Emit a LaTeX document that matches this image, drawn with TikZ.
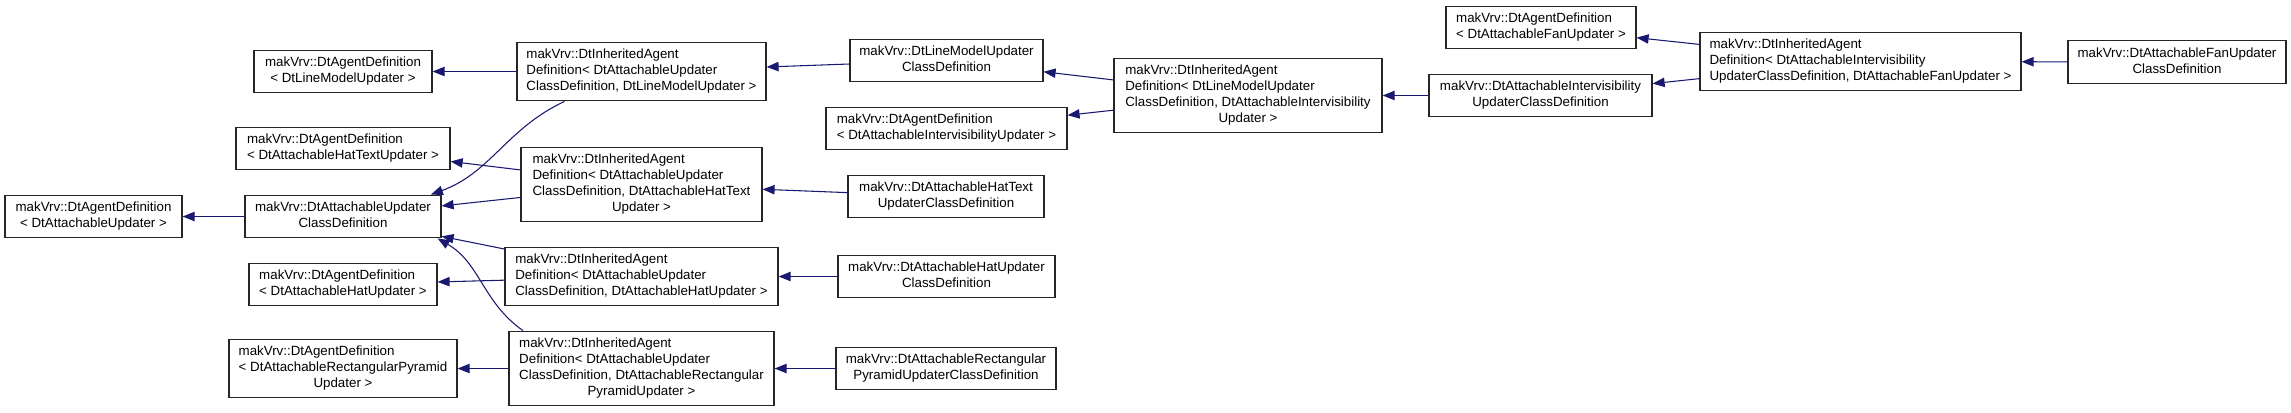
\documentclass[tikz,border=0pt]{standalone}
\usepackage{fontspec}
\setmainfont{Liberation Sans}
\usepackage{xcolor}
\usetikzlibrary{arrows.meta}

\definecolor{edgeblue}{RGB}{25,25,112}
\newcommand{\clsbox}[1]{\begin{tabular}{@{}l@{}}#1\end{tabular}}
\newcommand{\lastrow}[1]{\multicolumn{1}{@{}c@{}}{#1}}

\begin{document}
\begin{tikzpicture}[
  x=0.75pt, y=-0.75pt,
  cls/.style={draw=black!85, line width=0.9pt, fill=white, inner xsep=2pt,
              inner ysep=4pt, font=\fontsize{10}{12}\selectfont},
  inh/.style={{Triangle[length=9pt, width=7pt]}-, line width=0.8pt, edgeblue}
]
  \useasboundingbox (0,0) rectangle (2291,412);
  % Column 1
  \node[cls, minimum width=132.75pt] (a0) at (93.5,216.5)
    {\clsbox{makVrv::DtAgentDefinition\\\lastrow{< DtAttachableUpdater >}}};
  % Column 2
  \node[cls, minimum width=133.5pt] (c1) at (343,71.5)
    {\clsbox{makVrv::DtAgentDefinition\\\lastrow{< DtLineModelUpdater >}}};
  \node[cls, minimum width=160.5pt] (c2) at (343,148.5)
    {\clsbox{makVrv::DtAgentDefinition\\\lastrow{< DtAttachableHatTextUpdater >}}};
  \node[cls, minimum width=147pt] (b) at (343,216.5)
    {\clsbox{makVrv::DtAttachableUpdater\\\lastrow{ClassDefinition}}};
  \node[cls, minimum width=141pt] (c3) at (343,284.5)
    {\clsbox{makVrv::DtAgentDefinition\\\lastrow{< DtAttachableHatUpdater >}}};
  \node[cls, minimum width=171pt] (c4) at (343,368.5)
    {\clsbox{makVrv::DtAgentDefinition\\< DtAttachableRectangularPyramid\\\lastrow{Updater >}}};
  % Column 3
  \node[cls, minimum width=186.75pt] (d1) at (641.5,71.5)
    {\clsbox{makVrv::DtInheritedAgent\\Definition< DtAttachableUpdater\\\lastrow{ClassDefinition, DtLineModelUpdater >}}};
  \node[cls, minimum width=180.75pt] (d2) at (641.5,184.5)
    {\clsbox{makVrv::DtInheritedAgent\\Definition< DtAttachableUpdater\\ClassDefinition, DtAttachableHatText\\\lastrow{Updater >}}};
  \node[cls, minimum width=204.75pt] (d3) at (641.5,276.5)
    {\clsbox{makVrv::DtInheritedAgent\\Definition< DtAttachableUpdater\\\lastrow{ClassDefinition, DtAttachableHatUpdater >}}};
  \node[cls, minimum width=198.75pt] (d4) at (641.5,368.5)
    {\clsbox{makVrv::DtInheritedAgent\\Definition< DtAttachableUpdater\\ClassDefinition, DtAttachableRectangular\\\lastrow{PyramidUpdater >}}};
  % Column 4
  \node[cls, minimum width=144.75pt] (e1) at (946.5,60.5)
    {\clsbox{makVrv::DtLineModelUpdater\\\lastrow{ClassDefinition}}};
  \node[cls, minimum width=180.75pt] (e2) at (946.5,128.5)
    {\clsbox{makVrv::DtAgentDefinition\\\lastrow{< DtAttachableIntervisibilityUpdater >}}};
  \node[cls, minimum width=147pt] (e3) at (946,196.5)
    {\clsbox{makVrv::DtAttachableHatText\\\lastrow{UpdaterClassDefinition}}};
  \node[cls, minimum width=162.75pt] (e4) at (946.5,276.5)
    {\clsbox{makVrv::DtAttachableHatUpdater\\\lastrow{ClassDefinition}}};
  \node[cls, minimum width=165pt] (e5) at (946,368.5)
    {\clsbox{makVrv::DtAttachableRectangular\\\lastrow{PyramidUpdaterClassDefinition}}};
  % Column 5 to 8
  \node[cls, minimum width=201pt] (f) at (1248,95.5)
    {\clsbox{makVrv::DtInheritedAgent\\Definition< DtLineModelUpdater\\ClassDefinition, DtAttachableIntervisibility\\\lastrow{Updater >}}};
  \node[cls, minimum width=142.5pt] (g2) at (1541,27.5)
    {\clsbox{makVrv::DtAgentDefinition\\\lastrow{< DtAttachableFanUpdater >}}};
  \node[cls, minimum width=167.25pt] (g1) at (1540.5,95.5)
    {\clsbox{makVrv::DtAttachableIntervisibility\\\lastrow{UpdaterClassDefinition}}};
  \node[cls, minimum width=240.75pt] (h) at (1860.5,61.5)
    {\clsbox{makVrv::DtInheritedAgent\\Definition< DtAttachableIntervisibility\\\lastrow{UpdaterClassDefinition, DtAttachableFanUpdater >}}};
  \node[cls, minimum width=163.5pt] (i) at (2177,62)
    {\clsbox{makVrv::DtAttachableFanUpdater\\\lastrow{ClassDefinition}}};
  % Inheritance
  \draw[inh] (a0) -- (b);
  \draw[inh] (c1) -- (d1);
  \draw[inh] (c2) -- (d2);
  \draw[inh] (b) -- (d2);
  \draw[inh] (b) -- (d3);
  \draw[inh] (c3) -- (d3);
  \draw[inh] (c4) -- (d4);
  \draw[inh] ([xshift=-8pt]b.north east) to[out=20, in=205] ([xshift=-57.75pt]d1.south);
  \draw[inh] ([xshift=-3pt]b.south east) to[out=-30, in=145] ([xshift=-88.9pt]d4.north);
  \draw[inh] (d1) -- (e1);
  \draw[inh] (d2) -- (e3);
  \draw[inh] (d3) -- (e4);
  \draw[inh] (d4) -- (e5);
  \draw[inh] (e1) -- (f);
  \draw[inh] (e2) -- (f);
  \draw[inh] (f) -- (g1);
  \draw[inh] (g2) -- (h);
  \draw[inh] (g1) -- (h);
  \draw[inh] (h) -- (i);
\end{tikzpicture}
\end{document}
